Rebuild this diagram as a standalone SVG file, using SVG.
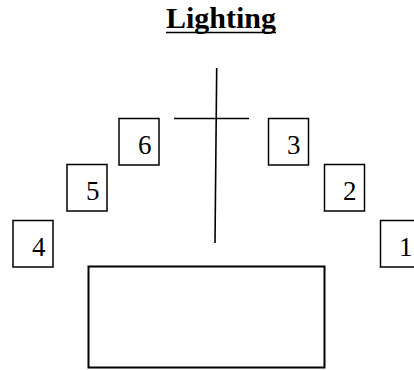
<svg xmlns="http://www.w3.org/2000/svg" width="414" height="370" viewBox="0 0 414 370">
<style>
.box{fill:#fff;stroke:#000;stroke-width:1.5}
.num{font-family:"Liberation Serif",serif;font-size:27px;fill:#000}
.ln{stroke:#000;stroke-width:1.6;fill:none}
</style>
<rect width="414" height="370" fill="#fff"/>
<g id="title">
<text x="221" y="28" text-anchor="middle" font-family="Liberation Serif,serif" font-weight="bold" font-size="30" fill="#000">Lighting</text>
<line x1="166" y1="32.5" x2="276" y2="32.5" stroke="#000" stroke-width="1.6"/>
</g>
<g id="connectors">
<line class="ln" x1="216.7" y1="68" x2="215" y2="243"/>
<line class="ln" x1="174" y1="118.5" x2="249" y2="118.5"/>
</g>
<g id="light6"><rect class="box" x="119" y="118.5" width="40" height="46.5"/><text class="num" x="138" y="154">6</text></g>
<g id="light5"><rect class="box" x="67" y="164.5" width="40" height="46.5"/><text class="num" x="86" y="200">5</text></g>
<g id="light4"><rect class="box" x="13" y="220.5" width="40" height="46.5"/><text class="num" x="32" y="256">4</text></g>
<g id="light3"><rect class="box" x="268.5" y="118.5" width="40" height="46.5"/><text class="num" x="287" y="154">3</text></g>
<g id="light2"><rect class="box" x="324.5" y="164.5" width="40" height="46.5"/><text class="num" x="343" y="200">2</text></g>
<g id="light1"><rect class="box" x="380.5" y="220.5" width="40" height="46.5"/><text class="num" x="399" y="256">1</text></g>
<g id="stage"><rect x="88.5" y="266.5" width="236" height="101" fill="#fff" stroke="#000" stroke-width="2"/></g>
</svg>
